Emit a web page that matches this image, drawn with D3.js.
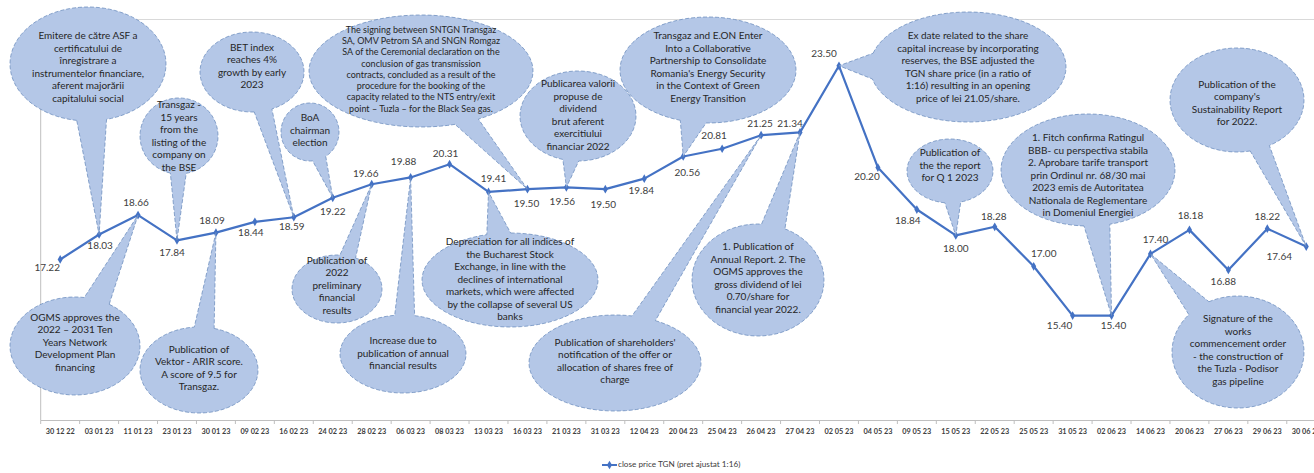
<!DOCTYPE html>
<html>
<head>
<meta charset="utf-8">
<script src="https://cdn.jsdelivr.net/npm/d3@7/dist/d3.min.js"></script>
<style>
  body { margin: 0; background: #fff; }
  svg { display: block; font-family: Lato, "Liberation Sans", sans-serif; }
</style>
</head>
<body>
<div id="chart"></div>
<script>
// session dates (category axis)
var dates = ["30 12 22","03 01 23","11 01 23","23 01 23","30 01 23","09 02 23","16 02 23","24 02 23",
  "28 02 23","06 03 23","08 03 23","13 03 23","16 03 23","21 03 23","31 03 23","12 04 23","20 04 23",
  "25 04 23","26 04 23","27 04 23","02 05 23","04 05 23","09 05 23","15 05 23","22 05 23","25 05 23",
  "31 05 23","02 06 23","14 06 23","20 06 23","27 06 23","29 06 23","30 06 23"];

// close price TGN (adjusted 1:16)
var prices = [17.22,18.03,18.66,17.84,18.09,18.44,18.59,19.22,19.66,19.88,20.31,19.41,19.50,19.56,19.50,
  19.84,20.56,20.81,21.25,21.34,23.50,20.20,18.84,18.00,18.28,17.00,15.40,15.40,17.40,18.18,16.88,18.22,17.64];

var seriesName = "close price TGN (pret ajustat 1:16)";

// event notes, each attached to a session (index into dates)
var noteIndex = [1,3,6,7,12,13,16,20,23,27,32,2,4,8,9,11,18,19,28];
var noteText = [
  ["Emitere de către ASF a","certificatului de","înregistrare a","instrumentelor financiare,","aferent majorării","capitalului social"],
  ["Transgaz -","15 years","from the","listing of the","company on","the BSE"],
  ["BET index","reaches 4%","growth by early","2023"],
  ["BoA","chairman","election"],
  ["The signing between SNTGN Transgaz","SA, OMV Petrom SA and SNGN Romgaz","SA of the Ceremonial declaration on the","conclusion of gas transmission","contracts, concluded as a result of the","procedure for the booking of the","capacity related to the NTS entry/exit","point – Tuzla – for the Black Sea gas."],
  ["Publicarea valorii","propuse de","dividend","brut aferent","exercitiului","financiar 2022"],
  ["Transgaz and E.ON Enter","Into a Collaborative","Partnership to Consolidate","Romania's Energy Security","in the Context of Green","Energy Transition"],
  ["Ex date related to the share","capital increase by incorporating","reserves, the BSE adjusted the","TGN share price (in a ratio of","1:16) resulting in an opening","price of lei 21.05/share."],
  ["Publication of","the the report","for Q 1 2023"],
  ["1. Fitch confirma Ratingul","BBB- cu perspectiva stabila","2. Aprobare tarife transport","prin Ordinul nr. 68/30 mai","2023 emis de Autoritatea","Nationala de Reglementare","in Domeniul Energiei"],
  ["Publication of the","company's","Sustainability Report","for 2022."],
  ["OGMS approves the","2022 – 2031 Ten","Years Network","Development Plan","financing"],
  ["Publication of","Vektor - ARIR score.","A score of 9.5 for","Transgaz."],
  ["Publication of","2022","preliminary","financial","results"],
  ["Increase due to","publication of annual","financial results"],
  ["Depreciation for all indices of","the Bucharest Stock","Exchange, in line with the","declines of international","markets, which were affected","by the collapse of several US","banks"],
  ["Publication of shareholders'","notification of the offer or","allocation of shares free of","charge"],
  ["1. Publication of","Annual Report. 2. The","OGMS approves the","gross dividend of lei","0.70/share for","financial year 2022."],
  ["Signature of the","works","commencement order","- the construction of","the Tuzla - Podisor","gas pipeline"]
];

// bubble layout: ellipse centre/radii, text centre, font size, wedge width
var bubbleLayout = [
  {cx:88,cy:64,rx:78,ry:57,ty:68,fs:10,w:30},
  {cx:179,cy:136,rx:39,ry:38,ty:137,fs:10,w:16},
  {cx:252,cy:72,rx:52,ry:40,ty:67,fs:10,w:18},
  {cx:310,cy:132,rx:29,ry:29,ty:131,fs:10,w:14},
  {cx:421,cy:71,rx:112,ry:56,ty:70,fs:9,w:24},
  {cx:578,cy:116,rx:58,ry:45,ty:116,fs:10,w:16},
  {cx:708,cy:70,rx:88,ry:53,ty:68,fs:10,w:26},
  {cx:968,cy:67,rx:98,ry:55,ty:68,fs:10,w:26},
  {cx:950,cy:171,rx:43,ry:32,ty:166,fs:10,w:16},
  {cx:1088,cy:170,rx:87,ry:56,ty:176,fs:10,w:26},
  {cx:1237,cy:100,rx:67,ry:52,ty:104,fs:10,w:20},
  {cx:75,cy:346,rx:65,ry:49,ty:343,fs:10,w:26},
  {cx:199,cy:370,rx:59,ry:43,ty:369,fs:10,w:20},
  {cx:337,cy:289,rx:45,ry:34,ty:286,fs:10,w:16},
  {cx:403,cy:354,rx:63,ry:39,ty:354,fs:10,w:20},
  {cx:510,cy:280,rx:88,ry:47,ty:280,fs:10,w:24},
  {cx:615,cy:363,rx:86,ry:48,ty:362,fs:10,w:24},
  {cx:758,cy:280,rx:66,ry:56,ty:279,fs:10,w:24},
  {cx:1238,cy:352,rx:66,ry:56,ty:351,fs:10,w:24}
];

// data label offsets from each point [dx, dy]
var labelOffset = [[-13,9],[1,12],[-2,-12],[-5,13],[-4,-11],[-4,12],[-2,10],[0,15],[-6,-10],[-7,-15],
  [-4,-10],[5,-12],[-1,15],[-4,15],[-2,16],[-3,13],[4,17],[-8,-12],[-1,-11],[-10,-8],[-15,-11],
  [-11,10],[-9,12],[0,14],[-1,-9],[10,-12],[-13,11],[2,11],[5,-13],[1,-13],[-5,12],[0,-11],[-27,11]];

var width = 1314, height = 473;
var plotTop = 19.5, plotBottom = 420.5, plotLeft = 40.7;
var lineColor = "#4472C4";

var svg = d3.select("#chart")
            .append("svg")
            .attr("width", width)
            .attr("height", height);

var x = d3.scaleBand()
          .domain(dates)
          .range([plotLeft, plotLeft + dates.length * 38.94]);

var y = d3.scaleLinear()
          .domain([12, 25])
          .range([plotBottom, plotTop]);

var half = x.bandwidth() / 2;
function px(i){ return x(dates[i]) + half; }
function py(i){ return y(prices[i]); }

//plot area border (top and left)
svg.append("line")
   .attr("x1", plotLeft).attr("x2", width)
   .attr("y1", plotTop).attr("y2", plotTop)
   .attr("stroke", "#d9d9d9").attr("stroke-width", 1);

svg.append("line")
   .attr("x1", plotLeft).attr("x2", plotLeft)
   .attr("y1", plotTop).attr("y2", plotBottom)
   .attr("stroke", "#bfbfbf").attr("stroke-width", 1);

//category axis
var axis = svg.append("g")
              .attr("transform", "translate(0," + plotBottom + ")");

axis.append("line")
    .attr("x1", plotLeft).attr("x2", width)
    .attr("stroke", "#bfbfbf");

axis.selectAll(".tick-mark")
    .data(dates)
    .enter()
    .append("line")
    .classed("tick-mark", true)
    .attr("x1", function(d){ return x(d); })
    .attr("x2", function(d){ return x(d); })
    .attr("y1", 0).attr("y2", 3.5)
    .attr("stroke", "#bfbfbf");

axis.selectAll(".tick-label")
    .data(dates)
    .enter()
    .append("text")
    .classed("tick-label", true)
    .attr("x", function(d){ return x(d) + half; })
    .attr("y", 12)
    .attr("text-anchor", "middle")
    .attr("dominant-baseline", "middle")
    .attr("font-size", 7.3)
    .attr("font-weight", "bold")
    .attr("fill", "#404040")
    .text(function(d){ return d; });

//price line
var line = d3.line()
             .x(function(d,i){ return px(i); })
             .y(function(d,i){ return py(i); });

svg.append("path")
   .datum(prices)
   .attr("d", line)
   .attr("fill", "none")
   .attr("stroke", lineColor)
   .attr("stroke-width", 2.2)
   .attr("stroke-linejoin", "round");

var diamond = d3.symbol().type(d3.symbolDiamond).size(22);

svg.selectAll(".marker")
   .data(prices)
   .enter()
   .append("path")
   .classed("marker", true)
   .attr("d", diamond)
   .attr("transform", function(d,i){ return "translate(" + px(i) + "," + py(i) + ")"; })
   .attr("fill", lineColor);

svg.selectAll(".data-label")
   .data(prices)
   .enter()
   .append("text")
   .classed("data-label", true)
   .attr("x", function(d,i){ return px(i) + labelOffset[i][0]; })
   .attr("y", function(d,i){ return py(i) + labelOffset[i][1]; })
   .attr("text-anchor", "middle")
   .attr("dominant-baseline", "middle")
   .attr("font-size", 10)
   .attr("fill", "#404040")
   .text(function(d){ return d.toFixed(2); });

//callout bubbles: ellipse with a wedge pointing at the session
function bubblePath(b, tx, ty){
    var t0 = Math.atan2((ty - b.cy) / b.ry, (tx - b.cx) / b.rx);
    var speed = Math.sqrt(Math.pow(b.rx * Math.sin(t0), 2) + Math.pow(b.ry * Math.cos(t0), 2));
    var dt = (b.w / 2) / speed;
    var pts = [];
    for(var k = 0; k <= 90; k++){
        var t = t0 + dt + (2 * Math.PI - 2 * dt) * k / 90;
        pts.push([b.cx + b.rx * Math.cos(t), b.cy + b.ry * Math.sin(t)]);
    }
    pts.push([tx, ty]);
    return d3.line()(pts) + "Z";
}

var notes = noteText.map(function(t,i){
    return {lines: t, idx: noteIndex[i], b: bubbleLayout[i]};
});

var bubbles = svg.selectAll(".bubble")
                 .data(notes)
                 .enter()
                 .append("g")
                 .classed("bubble", true);

bubbles.append("path")
       .attr("d", function(d){ return bubblePath(d.b, px(d.idx), py(d.idx)); })
       .attr("fill", "#b4c7e7")
       .attr("stroke", "#6f8fbf")
       .attr("stroke-width", 0.8)
       .attr("stroke-dasharray", "4,2");

bubbles.each(function(d){
    var lh = d.b.fs * 1.25;
    var top = d.b.ty - (d.lines.length - 1) * lh / 2;
    d3.select(this).selectAll("text")
      .data(d.lines)
      .enter()
      .append("text")
      .attr("x", d.b.cx)
      .attr("y", function(s,j){ return top + j * lh; })
      .attr("text-anchor", "middle")
      .attr("dominant-baseline", "middle")
      .attr("font-size", d.b.fs)
      .attr("fill", "#262626")
      .text(function(s){ return s; });
});

//legend
var legend = svg.append("g")
                .attr("transform", "translate(602,465)");

legend.append("line")
      .attr("x1", 0).attr("x2", 15)
      .attr("stroke", lineColor)
      .attr("stroke-width", 2);

legend.append("path")
      .attr("d", diamond)
      .attr("transform", "translate(7.5,0)")
      .attr("fill", lineColor);

legend.append("text")
      .attr("x", 16)
      .attr("dominant-baseline", "middle")
      .attr("font-size", 8.2)
      .attr("fill", "#404040")
      .text(seriesName);
</script>
</body>
</html>
